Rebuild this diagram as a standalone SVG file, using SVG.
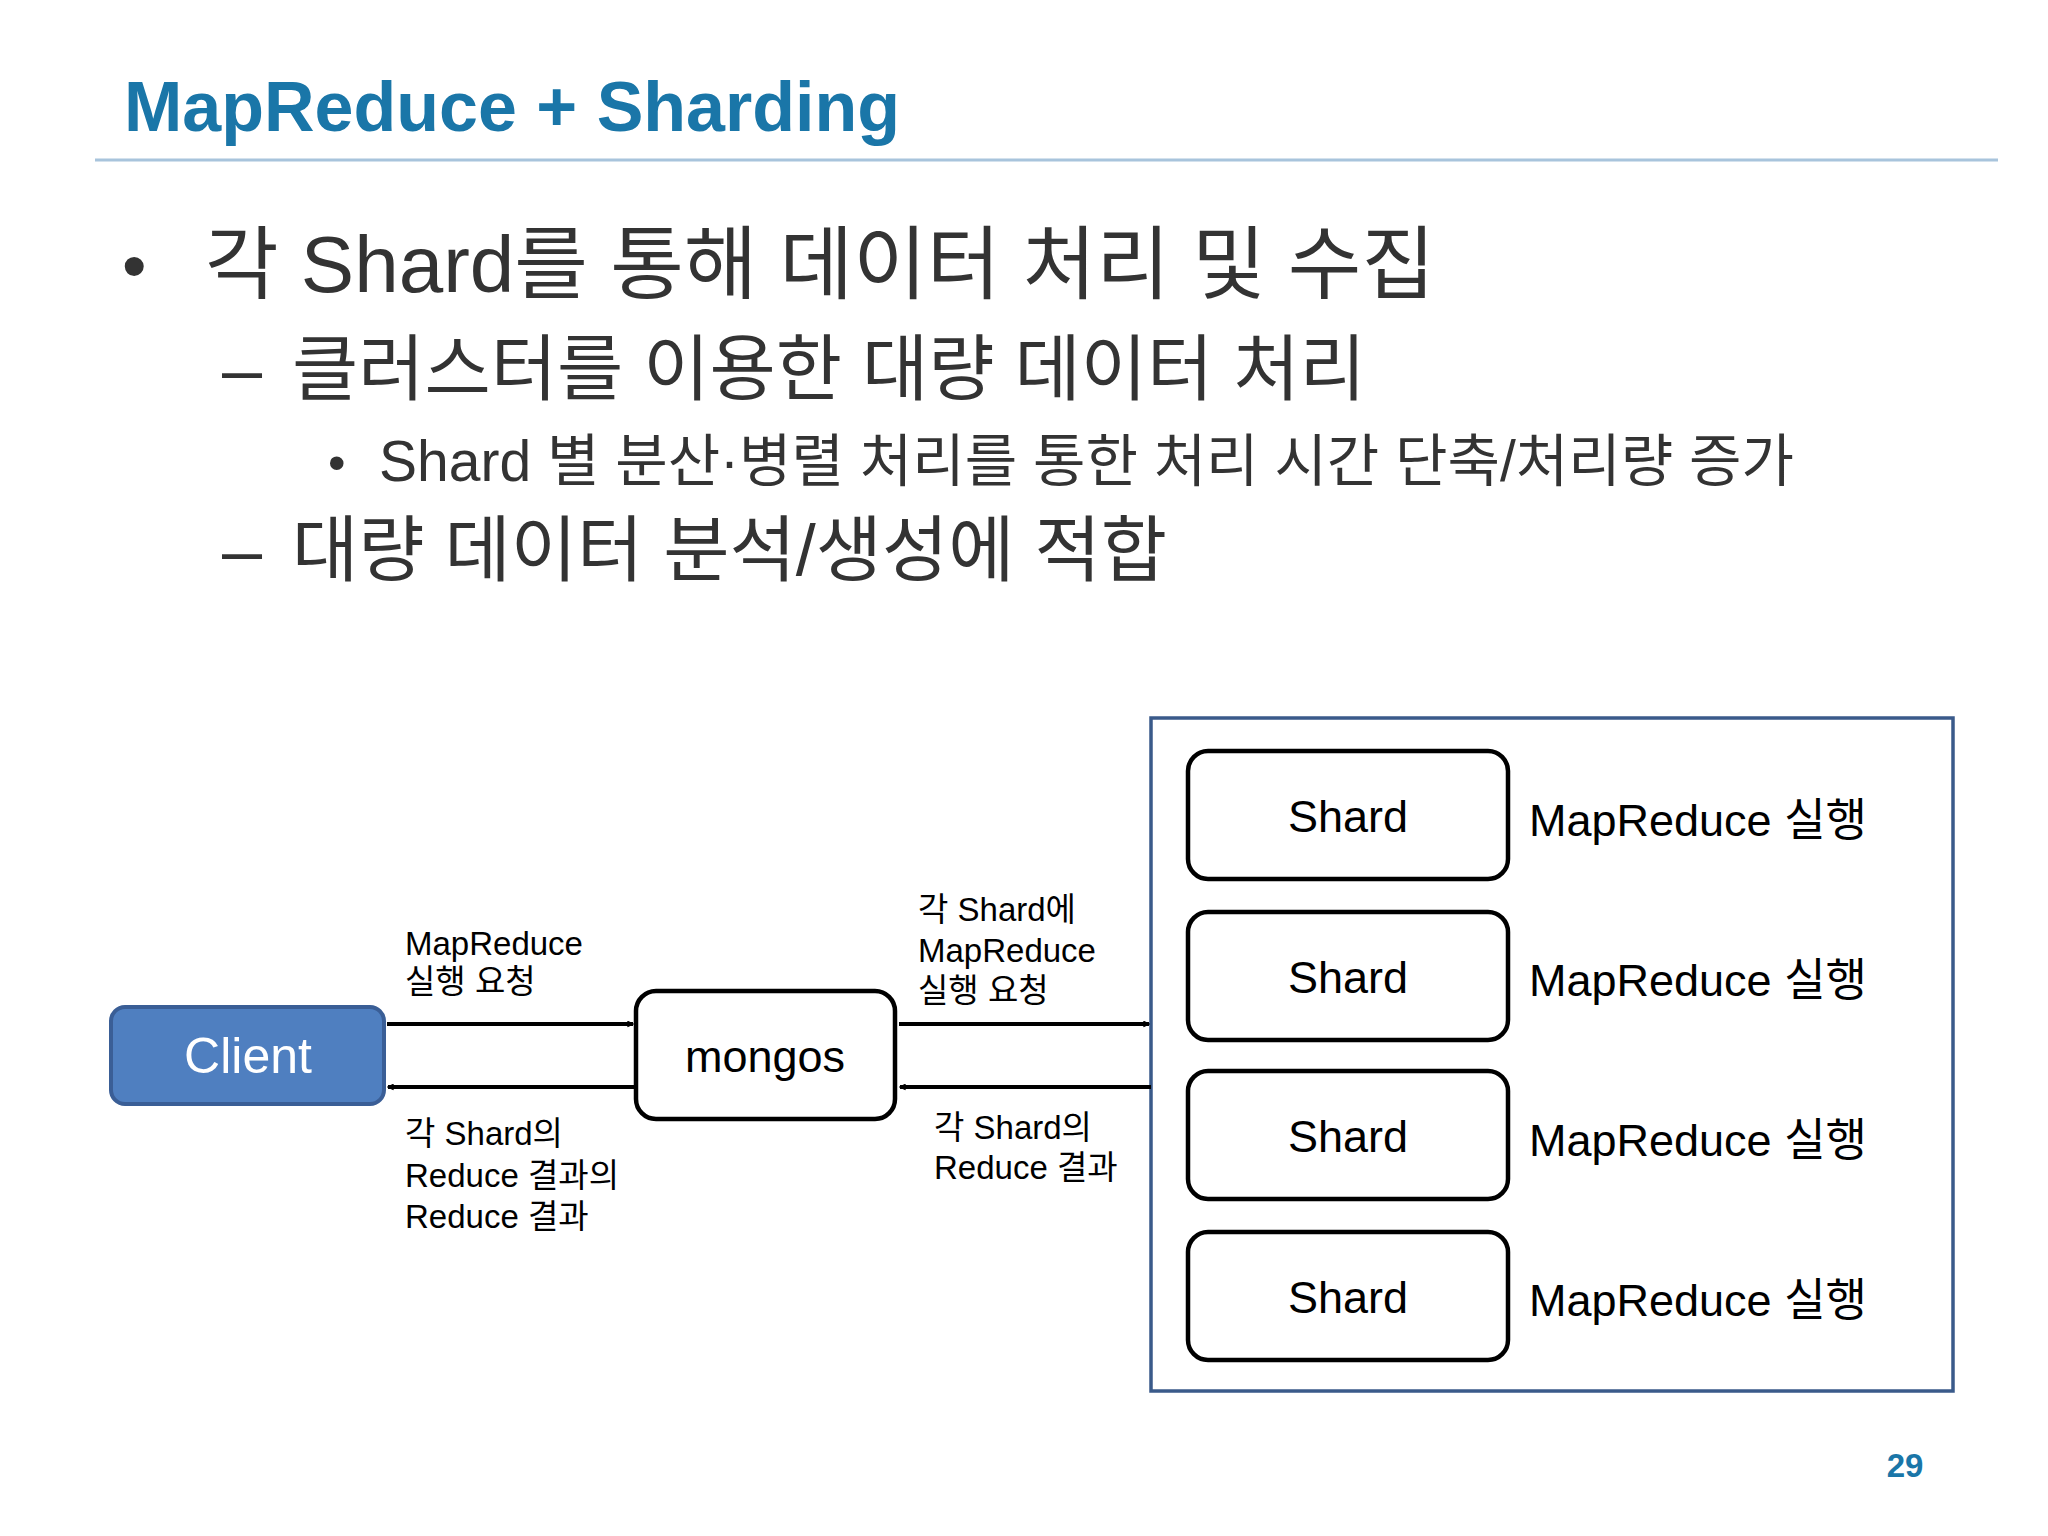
<svg xmlns="http://www.w3.org/2000/svg" width="2048" height="1536" viewBox="0 0 2048 1536">
<style>
text{font-family:"Liberation Sans","Noto Sans CJK KR",sans-serif}
.body{fill:#333}
.shard{fill:#fff;stroke:#000;stroke-width:4.5}
.st{font-size:45px;text-anchor:middle;fill:#000}
.mr{font-size:45px;fill:#000}
.lbl{font-size:33px;fill:#000}
.con{stroke:#000;stroke-width:4;fill:none}
</style>
<defs>
<marker id="ah" viewBox="0 0 20 20" refX="18" refY="10" markerWidth="7" markerHeight="7" orient="auto" markerUnits="userSpaceOnUse">
<path d="M2 2 L18 10 L2 18" fill="none" stroke="#000" stroke-width="3.5"/>
</marker>
</defs>
<rect width="2048" height="1536" fill="#fff"/>
<text x="124" y="131" font-size="70" font-weight="bold" fill="#1a76a8">MapReduce + Sharding</text>
<line x1="95" y1="160" x2="1998" y2="160" stroke="#a8c4dc" stroke-width="3"/>
<text class="body" x="122" y="290" font-size="70">•</text>
<text class="body" x="205" y="292" font-size="80">각 Shard를 통해 데이터 처리 및 수집</text>
<text class="body" x="222" y="394" font-size="72">–</text>
<text class="body" x="292" y="394" font-size="72">클러스터를 이용한 대량 데이터 처리</text>
<text class="body" x="328" y="480" font-size="50">•</text>
<text class="body" x="379" y="481" font-size="57">Shard 별 분산·병렬 처리를 통한 처리 시간 단축/처리량 증가</text>
<text class="body" x="222" y="575" font-size="72">–</text>
<text class="body" x="292" y="575" font-size="72">대량 데이터 분석/생성에 적합</text>
<rect x="1151" y="718" width="802" height="673" fill="none" stroke="#3a5a8a" stroke-width="3.5"/>
<g id="shard1"><rect class="shard" x="1188" y="751" width="320" height="128" rx="20"/><text class="st" x="1348" y="832">Shard</text><text class="mr" x="1529" y="836">MapReduce 실행</text></g>
<g id="shard2"><rect class="shard" x="1188" y="912" width="320" height="128" rx="20"/><text class="st" x="1348" y="993">Shard</text><text class="mr" x="1529" y="996">MapReduce 실행</text></g>
<g id="shard3"><rect class="shard" x="1188" y="1071" width="320" height="128" rx="20"/><text class="st" x="1348" y="1152">Shard</text><text class="mr" x="1529" y="1156">MapReduce 실행</text></g>
<g id="shard4"><rect class="shard" x="1188" y="1232" width="320" height="128" rx="20"/><text class="st" x="1348" y="1313">Shard</text><text class="mr" x="1529" y="1316">MapReduce 실행</text></g>
<g id="client"><rect x="111" y="1007" width="273" height="97" rx="14" fill="#4f7fc0" stroke="#3a5e96" stroke-width="4"/><text x="248" y="1073" font-size="50" text-anchor="middle" fill="#fff">Client</text></g>
<g id="mongos"><rect x="636" y="991" width="259" height="128" rx="20" fill="#fff" stroke="#000" stroke-width="4.5"/><text x="765" y="1072" font-size="45" text-anchor="middle" fill="#000">mongos</text></g>
<g id="connectors">
<line class="con" x1="387" y1="1024" x2="633" y2="1024" marker-end="url(#ah)"/>
<line class="con" x1="899" y1="1024" x2="1149" y2="1024" marker-end="url(#ah)"/>
<line class="con" x1="1151" y1="1087" x2="900" y2="1087" marker-end="url(#ah)"/>
<line class="con" x1="636" y1="1087" x2="388" y2="1087" marker-end="url(#ah)"/>
</g>
<text class="lbl" x="405" y="955">MapReduce</text>
<text class="lbl" x="405" y="993">실행 요청</text>
<text class="lbl" x="405" y="1145">각 Shard의</text>
<text class="lbl" x="405" y="1187">Reduce 결과의</text>
<text class="lbl" x="405" y="1228">Reduce 결과</text>
<text class="lbl" x="918" y="921">각 Shard에</text>
<text class="lbl" x="918" y="962">MapReduce</text>
<text class="lbl" x="918" y="1002">실행 요청</text>
<text class="lbl" x="934" y="1139">각 Shard의</text>
<text class="lbl" x="934" y="1179">Reduce 결과</text>
<text x="1905" y="1477" font-size="33" font-weight="bold" text-anchor="middle" fill="#1a76a8">29</text>
</svg>
